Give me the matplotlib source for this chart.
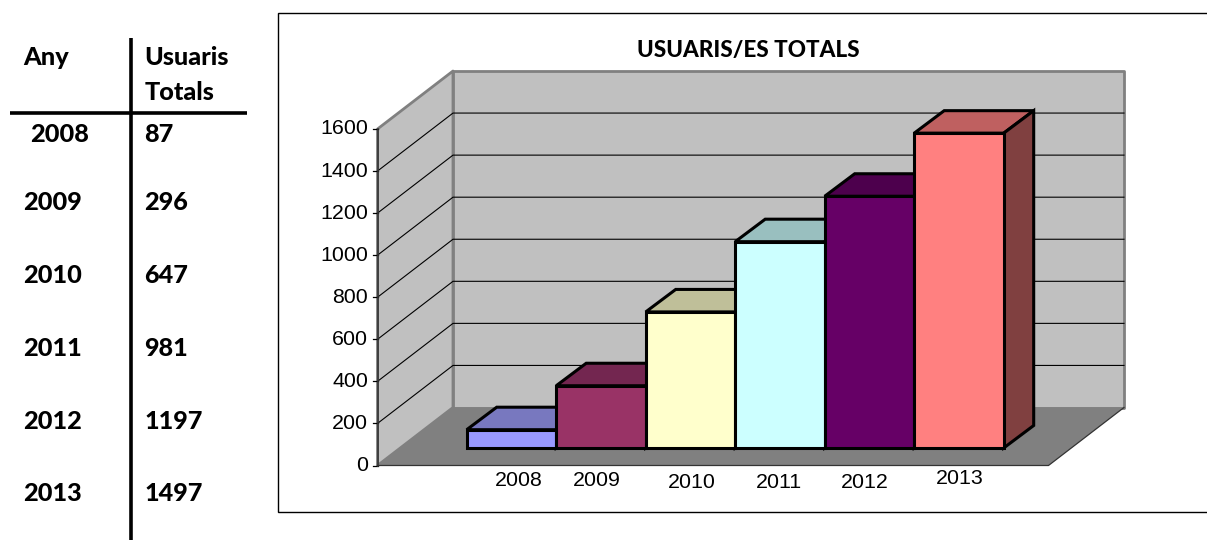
"""Excel-style 3D column chart of total users per year, with the small table beside it."""

import matplotlib

matplotlib.use("Agg")
import matplotlib.pyplot as plt
from matplotlib.patches import Polygon, Rectangle

years = ["2008", "2009", "2010", "2011", "2012", "2013"]
totals = [87, 296, 647, 981, 1197, 1497]
y_ticks = [0, 200, 400, 600, 800, 1000, 1200, 1400, 1600]

front_colors = ["#9999FF", "#993366", "#FFFFCC", "#CCFFFF", "#660066", "#FF8080"]
top_colors = ["#7878BF", "#732650", "#BFBF99", "#99BFBF", "#4D004D", "#BF6060"]
side_colors = ["#5C5C99", "#5C1F3D", "#99997A", "#7A9999", "#3D003D", "#804040"]

# layout in image pixels
PX_PER_UNIT = 336.5 / 1600
AXIS_X, AXIS_Y0 = 377.5, 465.5
WALL_DX, WALL_DY = 75.5, -58
FLOOR_W = 671
BAR_X0, BAR_Y0, BAR_W = 466.7, 448, 89.5
BAR_DX, BAR_DY = 30, -22.5
label_dx = [7.5, -4, 1, -1, -5, 0.5]
label_y = [481, 481, 483, 483, 483, 478]
row_y = [134.5, 202.5, 275.5, 348.5, 421.5, 493.5]
row_x = [30.5, 23.5, 23.5, 23.5, 23.5, 23.5]

TABLE_FONT = "Lato"
AXIS_FONT = "Liberation Sans"

fig = plt.figure(figsize=(12.07, 5.40), dpi=100)
ax = fig.add_axes([0, 0, 1, 1])
ax.set_xlim(0, 1207)
ax.set_ylim(540, 0)
ax.axis("off")


def poly(points, face, edge="none", lw=0.0, z=2, join="miter"):
    ax.add_patch(Polygon(points, closed=True, facecolor=face, edgecolor=edge,
                         linewidth=lw, joinstyle=join, zorder=z))


# table on the left
ax.plot([131, 131], [38, 540], color="black", lw=2.6, solid_capstyle="butt")
ax.plot([10, 247], [113, 113], color="black", lw=2.6, solid_capstyle="butt")
table_kw = dict(family=TABLE_FONT, fontweight=900, fontsize=18.2, va="center", color="black")
ax.text(23.5, 57.5, "Any", **table_kw)
ax.text(144.5, 57.5, "Usuaris", **table_kw)
ax.text(144.5, 92.5, "Totals", **table_kw)
for year, total, x, y in zip(years, totals, row_x, row_y):
    ax.text(x, y, year, **table_kw)
    ax.text(144.5, y, str(total), **table_kw)

# chart frame, runs off the right edge of the image
ax.add_patch(Rectangle((278, 13), 960, 499, facecolor="white", edgecolor="black", lw=1.0, zorder=1))
ax.text(748, 50, "USUARIS/ES TOTALS", family=TABLE_FONT, fontweight=900, fontsize=16.2,
        ha="center", va="center", zorder=3)

# walls and floor
top_y = AXIS_Y0 - y_ticks[-1] * PX_PER_UNIT
poly([(AXIS_X, top_y), (AXIS_X + WALL_DX, top_y + WALL_DY),
      (AXIS_X + WALL_DX, AXIS_Y0 + WALL_DY), (AXIS_X, AXIS_Y0)], "#C0C0C0", "#808080", 2.0, join="round")
poly([(AXIS_X + WALL_DX, top_y + WALL_DY), (AXIS_X + WALL_DX + FLOOR_W, top_y + WALL_DY),
      (AXIS_X + WALL_DX + FLOOR_W, AXIS_Y0 + WALL_DY), (AXIS_X + WALL_DX, AXIS_Y0 + WALL_DY)],
     "#C0C0C0", "#808080", 2.0, join="round")
poly([(AXIS_X, AXIS_Y0), (AXIS_X + WALL_DX, AXIS_Y0 + WALL_DY),
      (AXIS_X + WALL_DX + FLOOR_W, AXIS_Y0 + WALL_DY), (AXIS_X + FLOOR_W, AXIS_Y0)], "#808080")

# gridlines and y axis
for tick in y_ticks:
    y = AXIS_Y0 - tick * PX_PER_UNIT
    if 0 < tick < y_ticks[-1]:
        ax.plot([AXIS_X, AXIS_X + WALL_DX, AXIS_X + WALL_DX + FLOOR_W],
                [y, y + WALL_DY, y + WALL_DY], color="black", lw=0.8, zorder=3)
    ax.plot([AXIS_X - 5, AXIS_X], [y, y], color="black", lw=0.9, zorder=3)
    ax.text(368, y, str(tick), family=AXIS_FONT, fontsize=15.4, ha="right", va="center", zorder=3)
ax.plot([AXIS_X, AXIS_X], [top_y, AXIS_Y0], color="#333333", lw=1.2, zorder=3)
ax.plot([AXIS_X, AXIS_X + FLOOR_W, AXIS_X + WALL_DX + FLOOR_W],
        [AXIS_Y0, AXIS_Y0, AXIS_Y0 + WALL_DY], color="#333333", lw=0.9, zorder=3)

# bars, left to right so each front covers the previous side
for i, value in enumerate(totals):
    x0 = BAR_X0 + i * BAR_W
    x1 = x0 + BAR_W
    y1 = BAR_Y0 - value * PX_PER_UNIT
    z = 4 + i
    poly([(x0, y1), (x0 + BAR_DX, y1 + BAR_DY), (x1 + BAR_DX, y1 + BAR_DY), (x1, y1)],
         top_colors[i], "black", 2.2, z)
    poly([(x1, y1), (x1 + BAR_DX, y1 + BAR_DY), (x1 + BAR_DX, BAR_Y0 + BAR_DY), (x1, BAR_Y0)],
         side_colors[i], "black", 2.2, z)
    poly([(x0, y1), (x1, y1), (x1, BAR_Y0), (x0, BAR_Y0)], front_colors[i], "black", 2.2, z)
    ax.text((x0 + x1) / 2 + label_dx[i], label_y[i], years[i], family=AXIS_FONT, fontsize=15.4,
            ha="center", va="center", zorder=12)

fig.savefig("out.png", dpi=100)
